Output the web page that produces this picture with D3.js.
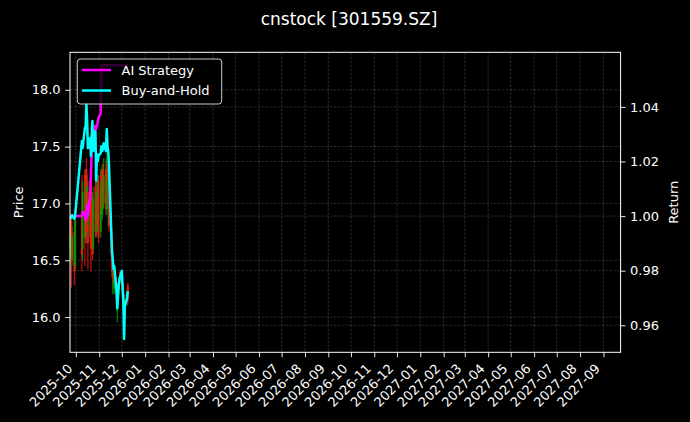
<!DOCTYPE html>
<html>
<head>
<meta charset="utf-8">
<script src="https://cdn.jsdelivr.net/npm/d3@7"></script>
<style>
  html, body { margin: 0; padding: 0; background: #000; }
  svg { display: block; }
  text { font-family: "DejaVu Sans", sans-serif; fill: #fff; }
</style>
</head>
<body>
<div id="chart"></div>
<script>
// ---------- data ----------
const dates = [
  "2025-09-24","2025-09-25","2025-09-26","2025-09-29","2025-09-30",
  "2025-10-09","2025-10-10","2025-10-13","2025-10-14","2025-10-15","2025-10-16","2025-10-17",
  "2025-10-20","2025-10-21","2025-10-22","2025-10-23","2025-10-24",
  "2025-10-27","2025-10-28","2025-10-29","2025-10-30","2025-10-31",
  "2025-11-03","2025-11-04","2025-11-05","2025-11-06","2025-11-07",
  "2025-11-10","2025-11-11","2025-11-12","2025-11-13","2025-11-14",
  "2025-11-17","2025-11-18","2025-11-19","2025-11-20","2025-11-21",
  "2025-11-24","2025-11-25","2025-11-26","2025-11-27","2025-11-28",
  "2025-12-01","2025-12-02","2025-12-03","2025-12-04","2025-12-05",
  "2025-12-08","2025-12-09"
];
const openP = [16.62,16.85,16.50,16.75,16.45, 16.90,16.60,17.25,16.70,17.30,16.80,17.10,
  16.70,17.20,17.05,17.00,16.60, 17.15,16.75,17.05,16.80,17.20, 16.75,17.25,16.90,17.30,17.00,
  17.30,16.95,17.30,17.00,17.15, 16.80,16.55,16.35,16.45,16.25, 16.30,16.05,16.15,16.25,16.35,
  16.40,16.30,16.20,16.00,16.05, 16.15,16.28];
const highP = [16.90,16.88,16.80,16.95,16.92, 17.25,17.20,17.30,17.30,17.40,17.25,17.20,
  17.20,17.25,17.10,17.10,17.15, 17.20,17.20,17.15,17.25,17.25, 17.30,17.30,17.35,17.35,17.40,
  17.40,17.45,17.35,17.30,17.20, 16.85,16.60,16.50,16.50,16.40, 16.35,16.20,16.30,16.35,16.40,
  16.42,16.32,16.22,16.10,16.20, 16.25,16.30];
const lowP = [16.55,16.26,16.45,16.28,16.40, 16.40,16.50,16.45,16.65,16.65,16.75,16.42,
  16.65,16.40,16.62,16.50,16.55, 16.70,16.70,16.72,16.75,16.65, 16.70,16.90,16.85,16.95,16.95,
  16.90,16.90,16.95,16.80,16.75, 16.45,16.35,16.20,16.25,16.20, 16.10,15.95,16.10,16.20,16.25,
  16.25,16.15,16.05,15.95,16.00, 16.10,16.12];
const closeP = [16.88,16.50,16.72,16.40,16.85, 16.55,17.10,16.70,17.20,16.75,17.15,16.65,
  17.10,16.60,16.80,16.55,17.05, 16.75,17.10,16.80,17.20,16.70, 17.15,16.95,17.20,17.00,17.25,
  16.95,17.30,17.00,17.20,16.80, 16.55,16.40,16.45,16.30,16.35, 16.15,16.15,16.25,16.30,16.30,
  16.28,16.20,16.10,16.05,16.15, 16.20,16.15];
const strategyReturn = [1.0000,1.0000,1.0000,1.0000,1.0000, 1.0000,1.0015,1.0011,0.9985,0.9990,1.0040,1.0000,
  1.0080,1.0150,1.0240,1.0300,1.0260, 1.0330,1.0320,1.0330,1.0345,1.0360, 1.0375,1.0553,1.0553,1.0553,1.0553,
  1.0553,1.0553,1.0553,1.0553,1.0553, 1.0553,1.0553,1.0553,1.0553,1.0553, 1.0553,1.0553,1.0553,1.0553,1.0553,
  1.0553,1.0553,1.0553,1.0553,1.0553, 1.0553,1.0553];
const buyHoldReturn = [1.0000,0.9995,1.0003,0.9990,1.0000, 1.0275,1.0249,1.0322,1.0330,1.0410,1.0348,1.0249,
  1.0286,1.0220,1.0293,1.0348,1.0238, 1.0311,1.0130,1.0227,1.0201,1.0220, 1.0231,1.0256,1.0238,1.0245,1.0267,
  1.0238,1.0319,1.0256,1.0238,1.0183, 0.9945,0.9872,0.9842,0.9806,0.9817, 0.9725,0.9663,0.9707,0.9751,0.9769,
  0.9799,0.9744,0.9689,0.9550,0.9670, 0.9700,0.9725];
const priceTicks = [16.0, 16.5, 17.0, 17.5, 18.0];
const returnTicks = [0.96, 0.98, 1.00, 1.02, 1.04];
const monthTicks = ["2025-10","2025-11","2025-12","2026-01","2026-02","2026-03","2026-04","2026-05",
  "2026-06","2026-07","2026-08","2026-09","2026-10","2026-11","2026-12","2027-01","2027-02","2027-03",
  "2027-04","2027-05","2027-06","2027-07","2027-08","2027-09"];
const seriesNames = ["AI Strategy", "Buy-and-Hold"];
const titleText = "cnstock [301559.SZ]";

// ---------- layout ----------
const W = 690, H = 422;
const L = 70, R = 620.6, T = 52.3, B = 352.3;
const parseDay = d3.timeParse("%Y-%m-%d");
const parseMonth = d3.timeParse("%Y-%m");
const days = dates.map(parseDay);
const monthDates = monthTicks.map(parseMonth);

const x = d3.scaleTime()
  .domain([new Date(2025, 8, 23, 6), new Date(2027, 8, 23, 18)])
  .range([L, R]);
const yP = d3.scaleLinear().domain([15.69, 18.33]).range([B, T]);
const yR = d3.scaleLinear().domain([0.9501, 1.0600]).range([B, T]);

const svg = d3.select("#chart").append("svg").attr("width", W).attr("height", H);
svg.append("rect").attr("width", W).attr("height", H).attr("fill", "#000");

// grid
const grid = svg.append("g");
const gridStyle = s => s.attr("stroke", "#ffffff").attr("stroke-opacity", 0.28)
  .attr("stroke-width", 0.6).attr("stroke-dasharray", "2.6,1.4");
grid.selectAll("line.v").data(monthDates).join("line")
  .attr("x1", d => x(d)).attr("x2", d => x(d)).attr("y1", T).attr("y2", B).call(gridStyle);
grid.selectAll("line.hp").data(priceTicks).join("line").attr("class", "hp")
  .attr("x1", L).attr("x2", R).attr("y1", d => yP(d)).attr("y2", d => yP(d)).call(gridStyle);
grid.selectAll("line.hr").data(returnTicks).join("line").attr("class", "hr")
  .attr("x1", L).attr("x2", R).attr("y1", d => yR(d)).attr("y2", d => yR(d)).call(gridStyle);

// candles
const candles = svg.append("g");
const idx = d3.range(dates.length);
const colorOf = i => closeP[i] >= openP[i] ? "#00a000" : "#ff1010";
candles.selectAll("line.wick").data(idx).join("line")
  .attr("x1", i => x(days[i])).attr("x2", i => x(days[i]))
  .attr("y1", i => yP(highP[i])).attr("y2", i => yP(lowP[i]))
  .attr("stroke", colorOf).attr("stroke-width", 1.1).attr("stroke-opacity", 0.85);
candles.selectAll("rect.body").data(idx).join("rect")
  .attr("x", i => x(days[i]) - 1).attr("width", 2)
  .attr("y", i => yP(Math.max(openP[i], closeP[i])))
  .attr("height", i => Math.max(0.5, Math.abs(yP(openP[i]) - yP(closeP[i]))))
  .attr("fill", colorOf).attr("fill-opacity", 0.85);

// lines
const lineGen = vals => d3.line().x((d, i) => x(days[i])).y(d => yR(d))(vals);
svg.append("path").attr("d", lineGen(strategyReturn)).attr("fill", "none")
  .attr("stroke", "#ff00ff").attr("stroke-width", 2.5).attr("stroke-linejoin", "round");
svg.append("path").attr("d", lineGen(buyHoldReturn)).attr("fill", "none")
  .attr("stroke", "#00ffff").attr("stroke-width", 2.5).attr("stroke-linejoin", "round");

// axes
const fontSize = "13px";
const styleAxis = g => {
  g.select(".domain").remove();
  g.selectAll(".tick line").attr("stroke", "#fff").attr("stroke-width", 0.9);
  g.selectAll(".tick text").attr("fill", "#fff").style("font-size", fontSize)
    .style("font-family", "DejaVu Sans, sans-serif");
};
svg.append("g").attr("transform", `translate(${L},0)`)
  .call(d3.axisLeft(yP).tickValues(priceTicks).tickFormat(d3.format(".1f")).tickSize(4.9).tickPadding(4.5))
  .call(styleAxis);
svg.append("g").attr("transform", `translate(${R},0)`)
  .call(d3.axisRight(yR).tickValues(returnTicks).tickFormat(d3.format(".2f")).tickSize(4.9).tickPadding(4.5))
  .call(styleAxis);
const xAxisG = svg.append("g").attr("transform", `translate(0,${B})`)
  .call(d3.axisBottom(x).tickValues(monthDates).tickFormat(d3.timeFormat("%Y-%m")).tickSize(4.9))
  .call(styleAxis);
xAxisG.selectAll(".tick text")
  .attr("y", null).attr("dy", null)
  .attr("text-anchor", "end")
  .attr("transform", "translate(-3,17) rotate(-45)");

// spines
svg.append("rect").attr("x", L).attr("y", T).attr("width", R - L).attr("height", B - T)
  .attr("fill", "none").attr("stroke", "#fff").attr("stroke-width", 1);

// axis labels & title
svg.append("text").attr("transform", `translate(22.5,${(T + B) / 2}) rotate(-90)`)
  .attr("text-anchor", "middle").style("font-size", fontSize).text("Price");
svg.append("text").attr("transform", `translate(677.5,${(T + B) / 2}) rotate(-90)`)
  .attr("text-anchor", "middle").style("font-size", fontSize).text("Return");
svg.append("text").attr("x", 349).attr("y", 25).attr("text-anchor", "middle")
  .style("font-size", "17px").text(titleText);

// legend
const leg = svg.append("g");
leg.append("rect").attr("x", 77.3).attr("y", 59).attr("width", 144.4).attr("height", 45)
  .attr("rx", 3).attr("fill", "#000").attr("fill-opacity", 0.8)
  .attr("stroke", "#cccccc").attr("stroke-width", 1);
const legColors = ["#ff00ff", "#00ffff"];
seriesNames.forEach((name, i) => {
  const yy = 70 + i * 20.5;
  leg.append("line").attr("x1", 82).attr("x2", 111).attr("y1", yy).attr("y2", yy)
    .attr("stroke", legColors[i]).attr("stroke-width", 2.5);
  leg.append("text").attr("x", 121.5).attr("y", yy + 4.8).style("font-size", fontSize).text(name);
});
</script>
</body>
</html>
